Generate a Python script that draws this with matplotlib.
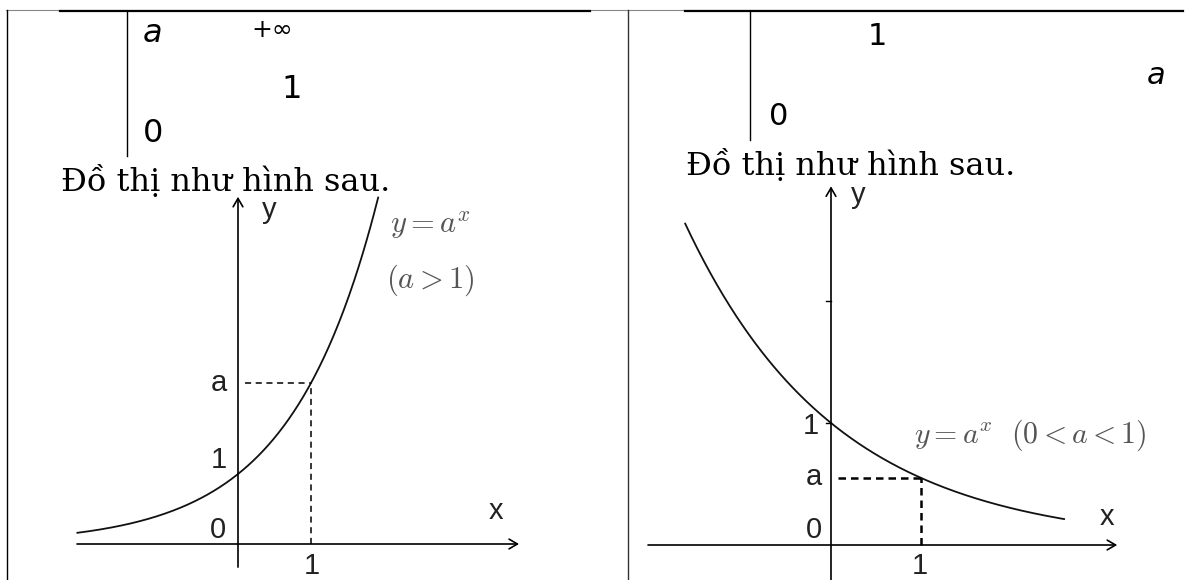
import matplotlib
matplotlib.use("Agg")
import matplotlib.pyplot as plt
import numpy as np
from matplotlib import font_manager

W, H = 1187, 580

# ---- data ----
left_table_labels = ["a", "+∞", "1", "0"]
right_table_labels = ["1", "a", "0"]
caption = "Đồ thị như hình sau."

base_grow = 2.3          # a > 1
base_decay = 0.55        # 0 < a < 1
grow_x_range = [-2.2, 1.92]
decay_x_range = [-1.62, 2.59]
axis_labels = ["y", "x", "a", "1", "0", "1"]
formula_grow = [r"$y = a^x$", r"$(a > 1)$"]
formula_decay = r"$y = a^x\ \ (0 < a < 1)$"

# pick a narrow sans for the graph labels if present
label_family = "Liberation Sans"
try:
    font_manager.findfont(font_manager.FontProperties(family="Liberation Sans Narrow"),
                          fallback_to_default=False)
    label_family = "Liberation Sans Narrow"
except Exception:
    pass

plt.rcParams["mathtext.fontset"] = "cm"

fig = plt.figure(figsize=(W / 100, H / 100), dpi=100)
bg = fig.add_axes([0, 0, 1, 1])
bg.set_xlim(0, W)
bg.set_ylim(H, 0)
bg.axis("off")

# table lines
bg.plot([6, 1183], [9.5, 9.5], color="#888888", lw=0.8)
bg.plot([60, 590], [10.5, 10.5], color="black", lw=1.6)
bg.plot([685, 1183], [10.5, 10.5], color="black", lw=1.6)
bg.plot([6.5, 6.5], [9.5, 580], color="black", lw=1.0)
bg.plot([628, 628], [9.5, 580], color="#333333", lw=1.0)
bg.plot([127, 127], [11, 156], color="black", lw=1.0)
bg.plot([750, 750], [11, 140], color="black", lw=1.0)

sans = "DejaVu Sans"
bg.text(143, 42, left_table_labels[0], family=sans, style="italic", fontsize=23, va="baseline")
bg.text(251, 37, left_table_labels[1], family=sans, fontsize=18, va="baseline")
bg.text(281, 98, left_table_labels[2], family=sans, fontsize=23, va="baseline")
bg.text(143, 142, left_table_labels[3], family=sans, fontsize=23, va="baseline")
bg.text(61, 191, caption, family="DejaVu Serif", fontsize=23, va="baseline")

bg.text(868, 45, right_table_labels[0], family=sans, fontsize=22, va="baseline")
bg.text(1147, 84, right_table_labels[1], family=sans, style="italic", fontsize=22, va="baseline")
bg.text(769, 125, right_table_labels[2], family=sans, fontsize=22, va="baseline")
bg.text(686, 175, caption, family="DejaVu Serif", fontsize=23, va="baseline")


def make_axes(box, x0, ux, y0, uy):
    l, t, r, b = box
    ax = fig.add_axes([l / W, 1 - b / H, (r - l) / W, (b - t) / H])
    ax.set_xlim((l - x0) / ux, (r - x0) / ux)
    ax.set_ylim((y0 - b) / uy, (y0 - t) / uy)
    ax.axis("off")
    ax.patch.set_alpha(0)
    return ax


def arrow(ax, p0, p1, lw=1.2):
    ax.annotate("", xy=p1, xytext=p0,
                arrowprops=dict(arrowstyle="->,head_length=0.6,head_width=0.35",
                                color="black", lw=lw, shrinkA=0, shrinkB=0))


lab = dict(family=label_family, fontsize=21, color="#222222", ha="center", va="center")
mth = dict(fontsize=22, color="#555555", va="center", ha="left")

# ---- graph 1: a > 1 ----
ax1 = make_axes((40, 185, 560, 580), 238, 73, 544, 70)
arrow(ax1, (-2.205, 0), (3.85, 0))
arrow(ax1, (0, -0.33), (0, 4.96))
x1 = np.linspace(grow_x_range[0], grow_x_range[1], 300)
ax1.plot(x1, base_grow ** x1, color="#111111", lw=1.3)
ax1.plot([0.1, 1], [base_grow, base_grow], color="black", lw=1.1, ls=(0, (4, 3)))
ax1.plot([1, 1], [0, base_grow], color="black", lw=1.1, ls=(0, (4, 3)))
ax1.text(0.425, 4.77, axis_labels[0], **lab)
ax1.text(3.53, 0.47, axis_labels[1], **lab)
ax1.text(-0.26, base_grow, axis_labels[2], **lab)
ax1.text(-0.26, 1.2, axis_labels[3], **lab)
ax1.text(-0.27, 0.2, axis_labels[4], **lab)
ax1.text(1.01, -0.31, axis_labels[5], **lab)
ax1.text(2.08, 4.55, formula_grow[0], **mth)
ax1.text(2.03, 3.77, formula_grow[1], **mth)

# ---- graph 2: 0 < a < 1 ----
ax2 = make_axes((640, 175, 1187, 580), 831, 90, 545, 122)
arrow(ax2, (-2.033, 0), (3.18, 0))
arrow(ax2, (0, -0.35), (0, 2.94))
x2 = np.linspace(decay_x_range[0], decay_x_range[1], 300)
ax2.plot(x2, base_decay ** x2, color="#111111", lw=1.3)
ax2.plot([0.078, 1], [base_decay, base_decay], color="black", lw=1.8, ls=(0, (3, 2)))
ax2.plot([1, 1], [0, base_decay], color="black", lw=1.8, ls=(0, (3, 2)))
for yt in (1, 2):
    ax2.plot([-0.06, 0], [yt, yt], color="black", lw=1.0)
ax2.text(0.3, 2.87, axis_labels[0], **lab)
ax2.text(3.07, 0.23, axis_labels[1], **lab)
ax2.text(-0.19, 0.557, axis_labels[2], **lab)
ax2.text(-0.22, 0.975, axis_labels[3], **lab)
ax2.text(-0.19, 0.12, axis_labels[4], **lab)
ax2.text(0.99, -0.17, axis_labels[5], **lab)
ax2.text(0.92, 0.90, formula_decay, fontsize=21.5, color="#555555", va="center", ha="left")

fig.savefig("out.png", dpi=100)
